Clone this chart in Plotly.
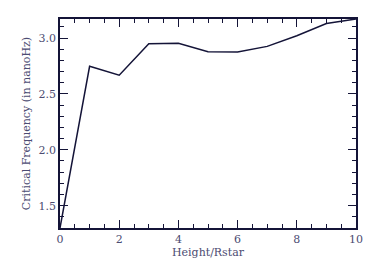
import plotly.graph_objects as go

heights = [0, 1, 2, 3, 4, 5, 6, 7, 8, 9, 10]
crit_freq = [1.30, 2.747, 2.667, 2.949, 2.952, 2.878, 2.875, 2.925, 3.02, 3.13, 3.17]

line_c = "#141438"
text_c = "#4c4c72"
font = dict(family="DejaVu Serif", size=11, color=text_c)

fig = go.Figure(go.Scatter(x=heights, y=crit_freq, mode="lines",
                           line=dict(color=line_c, width=1.5)))

axis_common = dict(showgrid=False, zeroline=False, showline=True, linecolor=line_c,
                   linewidth=1.5, mirror="ticks", ticks="inside", tickcolor=line_c,
                   tickwidth=1.2, ticklen=8, tickfont=font, automargin=False)

fig.update_xaxes(range=[0, 10], tickmode="linear", tick0=0, dtick=2,
                 title=dict(text="Height/Rstar", font=font, standoff=2),
                 minor=dict(dtick=0.5, tick0=0, ticks="inside", ticklen=4, tickcolor=line_c, tickwidth=1.2),
                 **axis_common)
fig.update_yaxes(range=[min(crit_freq), max(crit_freq)], tickmode="linear", tick0=1.5, dtick=0.5,
                 tickformat=".1f",
                 title=dict(text="Critical Frequency (in nanoHz)", font=font, standoff=6),
                 minor=dict(dtick=0.1, tick0=1.5, ticks="inside", ticklen=4, tickcolor=line_c, tickwidth=1.2),
                 **axis_common)

fig.update_layout(template="none", width=374, height=267, margin=dict(l=60, r=18, t=19, b=39),
                  paper_bgcolor="white", plot_bgcolor="white", showlegend=False)

fig.write_html("out.html", config={"displayModeBar": False},
               post_script="document.body.style.margin='0';")
